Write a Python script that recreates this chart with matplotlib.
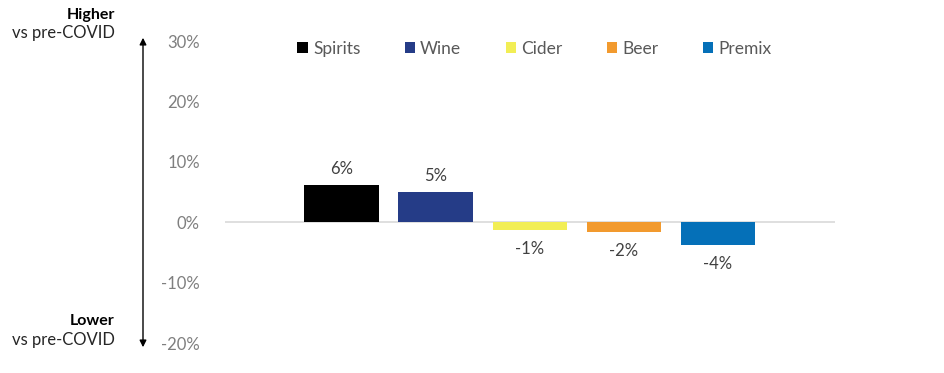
import matplotlib
matplotlib.use("Agg")
import matplotlib.pyplot as plt
from matplotlib.patches import Patch

categories = ["Spirits", "Wine", "Cider", "Beer", "Premix"]
values = [6.1, 5.0, -1.2, -1.6, -3.7]
labels = ["6%", "5%", "-1%", "-2%", "-4%"]
colors = ["#000000", "#253C87", "#F2EE55", "#F29A2E", "#0570B8"]
yticks = [-20, -10, 0, 10, 20, 30]

plt.rcParams['font.family'] = ['Lato', 'DejaVu Sans']
fig = plt.figure(figsize=(9.45, 3.73), dpi=100)
ax = fig.add_axes([0.238, 0.080, 0.646, 0.810])

x = list(range(len(categories)))
bars = ax.bar(x, values, width=0.79, color=colors, zorder=2)
ax.set_xlim(-1.24, len(categories) - 1 + 1.25)
ax.set_ylim(-20, 30)
ax.axhline(0, color="#d9d9d9", lw=1.2, zorder=1)
for s in ax.spines.values():
    s.set_visible(False)
ax.set_xticks([])
ax.set_yticks(yticks)
ax.set_yticklabels([f"{t}%" for t in yticks], color="#7f7f7f", fontsize=12)
ax.tick_params(axis="y", length=0, pad=18)

for b, v, l in zip(bars, values, labels):
    xc = b.get_x() + b.get_width() / 2
    if v >= 0:
        ax.annotate(l, (xc, v), xytext=(0, 6), textcoords="offset points",
                    ha="center", va="bottom", fontsize=12, color="#404040")
    else:
        ax.annotate(l, (xc, v), xytext=(0, -8), textcoords="offset points",
                    ha="center", va="top", fontsize=12, color="#404040")

handles = [Patch(facecolor=c, label=n) for c, n in zip(colors, categories)]
leg = ax.legend(handles=handles, loc="center", bbox_to_anchor=(0.507, 0.975), ncol=5,
                frameon=False, fontsize=12.5, handlelength=0.6, handleheight=0.6,
                handletextpad=0.3, columnspacing=2.55, labelcolor="#595959")

fig.text(115/945, 1 - 15/373, "Higher", ha="right", va="center", fontsize=11.5, fontweight="bold", color="#000000")
fig.text(115/945, 1 - 33/373, "vs pre-COVID", ha="right", va="center", fontsize=12, color="#262626")
fig.text(115/945, 1 - 321/373, "Lower", ha="right", va="center", fontsize=11.5, fontweight="bold", color="#000000")
fig.text(115/945, 1 - 340/373, "vs pre-COVID", ha="right", va="center", fontsize=12, color="#262626")

fig.add_artist(matplotlib.patches.FancyArrowPatch(
    (143/945, 1 - 350/373), (143/945, 1 - 35/373), transform=fig.transFigure,
    arrowstyle="<|-|>", mutation_scale=10, color="#000000", lw=1))

fig.savefig("out.png", dpi=100)
